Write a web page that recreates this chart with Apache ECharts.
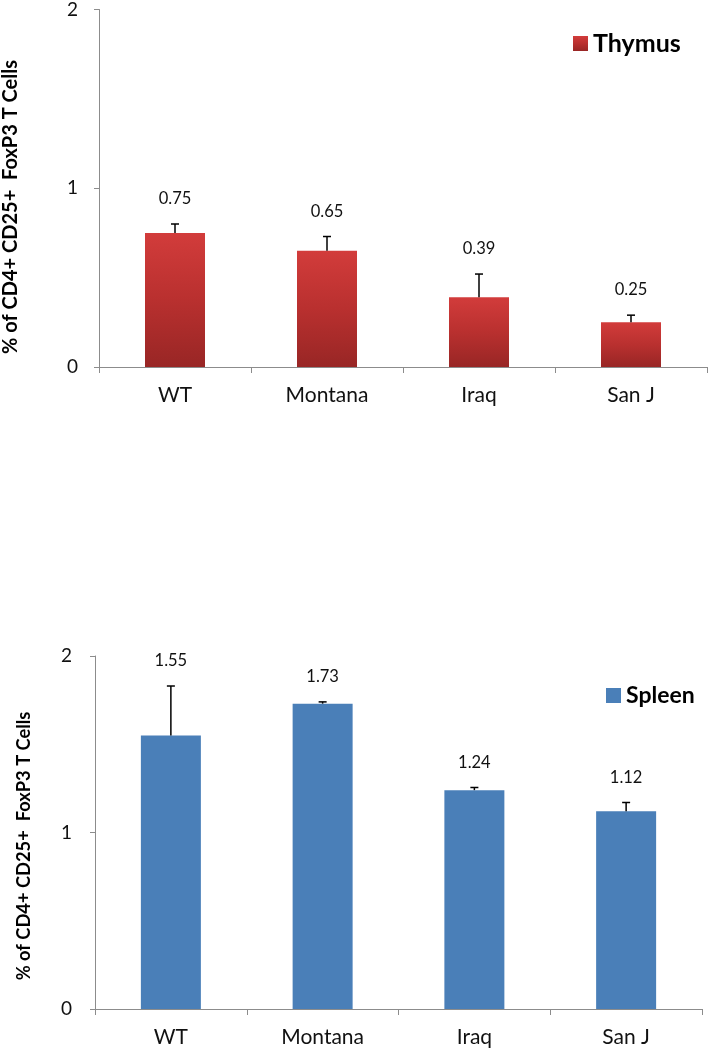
<!DOCTYPE html>
<html><head><meta charset="utf-8">
<script src="https://cdn.jsdelivr.net/npm/echarts@6/dist/echarts.min.js"></script>
<style>html,body{margin:0;padding:0;background:#fff}#c{width:708px;height:1050px}</style>
</head><body><div id="c"></div>
<script>
const categories = ['WT', 'Montana', 'Iraq', 'San J'];
const thymusValues = [0.75, 0.65, 0.39, 0.25];
const thymusErrors = [0.05, 0.08, 0.13, 0.04];
const spleenValues = [1.55, 1.73, 1.24, 1.12];
const spleenErrors = [0.28, 0.01, 0.015, 0.05];
const yTicks = [0, 1, 2];
const yTitle = '% of CD4+ CD25+  FoxP3 T Cells';

const FONT = 'Lato, "Open Sans", sans-serif';
const redGrad = {type:'linear',x:0,y:0,x2:0,y2:1,colorStops:[
  {offset:0,color:'#D23C3B'},{offset:0.5,color:'#B9302F'},{offset:1,color:'#982625'}]};
const blue = '#4A7FB8';

function errSeries(idx, vals, errs) {
  return {
    type:'custom', xAxisIndex:idx, yAxisIndex:idx, z:5, silent:true,
    data: vals.map((v,i)=>[i, v, errs[i]]),
    renderItem(params, api) {
      const x = api.value(0), v = api.value(1), e = api.value(2);
      const p0 = api.coord([x, v]), p1 = api.coord([x, v + e]);
      const st = {stroke:'#000', lineWidth:1.5};
      return {type:'group', children:[
        {type:'line', shape:{x1:p0[0],y1:p0[1],x2:p1[0],y2:p1[1]}, style:st},
        {type:'line', shape:{x1:p1[0]-4,y1:p1[1],x2:p1[0]+4,y2:p1[1]}, style:st}
      ]};
    }
  };
}
function labelSeries(idx, vals, errs) {
  return {
    type:'custom', xAxisIndex:idx, yAxisIndex:idx, z:6, silent:true,
    data: vals.map((v,i)=>[i, v, errs[i]]),
    renderItem(params, api) {
      const x = api.value(0), v = api.value(1), e = api.value(2);
      const p1 = api.coord([x, v + e]);
      return {type:'text', x:p1[0], y:p1[1]-25, style:{text:v.toFixed(2), fill:'#111',
        font:'16.5px ' + FONT, textAlign:'center', textVerticalAlign:'middle'}};
    }
  };
}
function xAx(idx, size) {
  return {type:'category', gridIndex:idx, data:categories,
    axisLine:{lineStyle:{color:'#8c8c8c', width:1}},
    axisTick:{show:true, length:6, lineStyle:{color:'#8c8c8c'}},
    axisLabel:{color:'#111', fontSize:size, fontFamily:FONT, margin:18}};
}
function yAx(idx, size, margin) {
  return {type:'value', gridIndex:idx, min:yTicks[0], max:yTicks[yTicks.length-1], interval:1,
    axisLine:{show:true, lineStyle:{color:'#8c8c8c', width:1}},
    axisTick:{show:true, length:5, lineStyle:{color:'#8c8c8c'}},
    splitLine:{show:false},
    axisLabel:{color:'#111', fontSize:size, fontFamily:FONT, margin:margin}};
}

const chart = echarts.init(document.getElementById('c'), null, {renderer:'canvas'});
chart.setOption({
  animation:false,
  backgroundColor:'#fff',
  grid:[
    {left:99, top:8, width:608, height:359},
    {left:95, top:656, width:607, height:353}
  ],
  xAxis:[xAx(0,21), xAx(1,21)],
  yAxis:[yAx(0,19,21), yAx(1,19,23)],
  legend:[
    {data:['Thymus'], left:568, top:26, icon:'rect', itemWidth:15, itemHeight:15, itemGap:7,
      textStyle:{fontSize:25, fontWeight:'bold', color:'#000', fontFamily:FONT}},
    {data:['Spleen'], left:601, top:679, icon:'rect', itemWidth:15, itemHeight:15, itemGap:7,
      textStyle:{fontSize:23, fontWeight:'bold', color:'#000', fontFamily:FONT}}
  ],
  graphic:[
    {type:'text', x:11, y:207, rotation:Math.PI/2, style:{text:yTitle, font:'bold 20px ' + FONT,
      fill:'#000', textAlign:'center', textVerticalAlign:'middle'}},
    {type:'text', x:24, y:846, rotation:Math.PI/2, style:{text:yTitle, font:'bold 18.3px ' + FONT,
      fill:'#000', textAlign:'center', textVerticalAlign:'middle'}}
  ],
  series:[
    {name:'Thymus', type:'bar', xAxisIndex:0, yAxisIndex:0, data:thymusValues, barWidth:60,
      itemStyle:{color:redGrad}},
    errSeries(0, thymusValues, thymusErrors),
    labelSeries(0, thymusValues, thymusErrors),
    {name:'Spleen', type:'bar', xAxisIndex:1, yAxisIndex:1, data:spleenValues, barWidth:60,
      itemStyle:{color:blue}},
    errSeries(1, spleenValues, spleenErrors),
    labelSeries(1, spleenValues, spleenErrors)
  ]
});
</script></body></html>
